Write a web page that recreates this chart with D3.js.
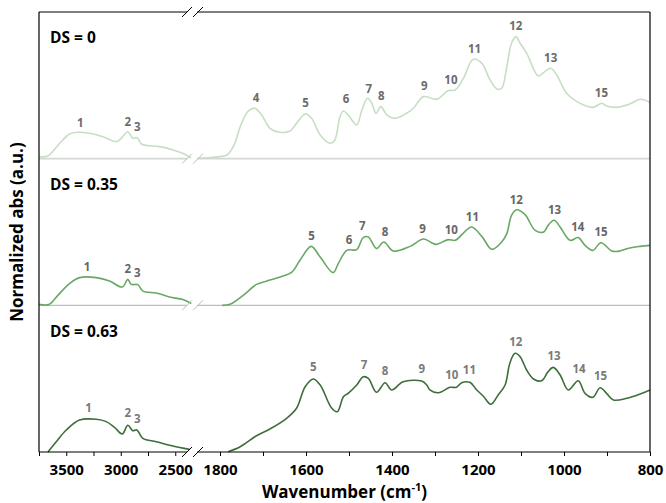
<!DOCTYPE html>
<html>
<head>
<meta charset="utf-8">
<script src="https://cdn.jsdelivr.net/npm/d3@7/dist/d3.min.js"></script>
<style>
  html, body { margin: 0; padding: 0; background: #fff; }
  svg { display: block; font-family: "Open Sans", "Noto Sans", sans-serif; }
</style>
</head>
<body>
<svg id="chart" width="666" height="503"></svg>
<script>
// ---------- DATA ----------
const panelNames = ["DS = 0", "DS = 0.35", "DS = 0.63"];
const panelOffsets = [2, 1, 0];
const lineColors = ["#c6dfc3", "#69a864", "#3e6e3b"];

const highTicks = [3500, 3000, 2500];
const lowTicks = [1800, 1600, 1400, 1200, 1000, 800];

// [wavenumber, normalized abs] — high wavenumber region (3750–2350 cm-1)
const ds0High = [[3750,0.014],[3670,0.018],[3560,0.105],[3470,0.168],[3395,0.18],[3285,0.173],[3165,0.15],[3040,0.116],[2995,0.139],[2935,0.184],[2890,0.139],[2850,0.143],[2810,0.1],[2750,0.089],[2645,0.082],[2520,0.059],[2400,0.025],[2355,0.003]];
const ds035High = [[3750,0.007],[3660,0.005],[3577,0.068],[3470,0.148],[3378,0.189],[3225,0.189],[3103,0.166],[2986,0.125],[2935,0.177],[2904,0.143],[2843,0.141],[2797,0.097],[2674,0.084],[2552,0.057],[2430,0.039],[2353,0.012]];
const ds063High = [[3668,0],[3592,0.07],[3500,0.15],[3378,0.218],[3225,0.223],[3133,0.207],[3057,0.168],[2986,0.123],[2935,0.182],[2889,0.145],[2852,0.15],[2797,0.093],[2674,0.07],[2522,0.041],[2369,0.018]];

// low wavenumber region (1850–800 cm-1)
const ds0Low = [[1850,0.003],[1816,0.01],[1784,0.025],[1769,0.082],[1750,0.241],[1734,0.325],[1719,0.344],[1703,0.298],[1684,0.207],[1660,0.18],[1637,0.189],[1622,0.241],[1602,0.305],[1587,0.275],[1567,0.162],[1544,0.105],[1533,0.127],[1521,0.286],[1513,0.325],[1502,0.298],[1482,0.23],[1470,0.332],[1457,0.412],[1447,0.378],[1437,0.31],[1426,0.355],[1412,0.298],[1393,0.275],[1366,0.31],[1350,0.344],[1327,0.423],[1296,0.405],[1269,0.464],[1253,0.468],[1234,0.548],[1211,0.678],[1191,0.65],[1172,0.537],[1156,0.475],[1145,0.48],[1133,0.627],[1122,0.787],[1112,0.832],[1102,0.787],[1087,0.719],[1060,0.564],[1048,0.586],[1031,0.616],[1017,0.571],[994,0.446],[970,0.389],[932,0.35],[912,0.378],[901,0.359],[877,0.35],[847,0.373],[823,0.405],[800,0.382]];
const ds035Low = [[1795,0],[1777,0.007],[1746,0.068],[1715,0.143],[1691,0.166],[1660,0.193],[1633,0.227],[1614,0.307],[1588,0.402],[1567,0.329],[1537,0.223],[1525,0.284],[1505,0.375],[1482,0.38],[1467,0.462],[1455,0.466],[1436,0.387],[1419,0.432],[1397,0.37],[1358,0.402],[1327,0.452],[1304,0.421],[1296,0.416],[1269,0.448],[1253,0.443],[1234,0.493],[1215,0.534],[1191,0.47],[1168,0.382],[1145,0.432],[1133,0.489],[1122,0.614],[1110,0.652],[1091,0.62],[1067,0.511],[1047,0.5],[1037,0.545],[1023,0.58],[1009,0.534],[986,0.443],[967,0.462],[951,0.409],[933,0.375],[914,0.427],[889,0.37],[874,0.368],[847,0.391],[823,0.402],[800,0.409]];
const ds063Low = [[1781,0.002],[1753,0.036],[1715,0.111],[1684,0.157],[1645,0.23],[1622,0.298],[1602,0.445],[1583,0.498],[1567,0.457],[1540,0.298],[1527,0.275],[1513,0.377],[1502,0.4],[1482,0.457],[1467,0.513],[1455,0.502],[1436,0.407],[1416,0.472],[1401,0.423],[1374,0.479],[1331,0.484],[1319,0.457],[1312,0.423],[1292,0.404],[1265,0.441],[1250,0.441],[1238,0.472],[1219,0.475],[1203,0.423],[1188,0.382],[1170,0.325],[1153,0.389],[1137,0.457],[1126,0.605],[1114,0.673],[1102,0.65],[1087,0.559],[1071,0.498],[1052,0.486],[1037,0.548],[1025,0.577],[1009,0.525],[990,0.423],[967,0.486],[951,0.4],[933,0.373],[916,0.438],[901,0.4],[885,0.355],[854,0.366],[823,0.395],[800,0.423]];

// peak labels: [label, wavenumber, height of label baseline]
const ds0Peaks = [["1",3372,0.218],["2",2935,0.225],["3",2849,0.189],["4",1716,0.385],["5",1601,0.35],["6",1507,0.378],["7",1454,0.45],["8",1425,0.4],["9",1325,0.468],["10",1263,0.509],["11",1208,0.723],["12",1112,0.877],["13",1031,0.661],["15",913,0.423]];
const ds035Peaks = [["1",3310,0.232],["2",2935,0.22],["3",2849,0.193],["5",1587,0.443],["6",1500,0.416],["7",1469,0.516],["8",1416,0.47],["9",1329,0.493],["10",1262,0.489],["11",1213,0.573],["12",1111,0.693],["13",1022,0.625],["14",968,0.505],["15",914,0.47]];
const ds063Peaks = [["1",3295,0.275],["2",2935,0.237],["3",2849,0.2],["5",1583,0.552],["7",1465,0.564],["8",1416,0.525],["9",1331,0.541],["10",1261,0.498],["11",1220,0.53],["12",1112,0.723],["13",1023,0.627],["14",965,0.541],["15",915,0.491]];

const highSeries = [ds0High, ds035High, ds063High];
const lowSeries = [ds0Low, ds035Low, ds063Low];
const peakSeries = [ds0Peaks, ds035Peaks, ds063Peaks];

// ---------- LAYOUT ----------
const svg = d3.select("#chart");
const plot = { left: 39, right: 650, top: 12, bottom: 452 };
const breakL = 191.6, breakR = 198.5;

const xHigh = d3.scaleLinear().domain([3750, 2350]).range([plot.left, breakL]);
const xLow = d3.scaleLinear().domain([1850, 800]).range([breakR, plot.right]);
const y = d3.scaleLinear().domain([0, 3]).range([plot.bottom, plot.top]);
const xOf = wn => wn > 2000 ? xHigh(wn) : xLow(wn);

// panel baselines (grey) for upper panels
const baseStyles = [{c: "#d6d6d6", w: 1.8}, {c: "#bdbdbd", w: 1.1}];
[0, 1].forEach(i => {
  const yy = y(panelOffsets[i]);
  svg.append("line").attr("x1", plot.left).attr("x2", 187).attr("y1", yy).attr("y2", yy)
    .attr("stroke", baseStyles[i].c).attr("stroke-width", baseStyles[i].w);
  svg.append("line").attr("x1", 197).attr("x2", plot.right).attr("y1", yy).attr("y2", yy)
    .attr("stroke", baseStyles[i].c).attr("stroke-width", baseStyles[i].w);
});

// spectra
const line = (xs, off) => d3.line()
  .x(d => xs(d[0]))
  .y(d => y(d[1] + off))
  .curve(d3.curveCatmullRom.alpha(0.5));

panelOffsets.forEach((off, i) => {
  svg.append("path").datum(highSeries[i]).attr("d", line(xHigh, off))
    .attr("fill", "none").attr("stroke", lineColors[i]).attr("stroke-width", 1.6);
  svg.append("path").datum(lowSeries[i]).attr("d", line(xLow, off))
    .attr("fill", "none").attr("stroke", lineColors[i]).attr("stroke-width", 1.6);
});

// break marks
function breakMarks(yy, color, w) {
  [[182, 192], [193, 203]].forEach(([a, b]) => {
    svg.append("line").attr("x1", a).attr("y1", yy + 5).attr("x2", b).attr("y2", yy - 5)
      .attr("stroke", color).attr("stroke-width", w);
  });
}
breakMarks(y(2), "#bdbdbd", 1);
breakMarks(y(1), "#bdbdbd", 1);

// frame: left, top, right, bottom
const frame = svg.append("g").attr("stroke", "#000").attr("stroke-width", 1.2);
frame.append("line").attr("x1", plot.left).attr("x2", plot.left).attr("y1", plot.top).attr("y2", plot.bottom);
frame.append("line").attr("x1", plot.right).attr("x2", plot.right).attr("y1", plot.top).attr("y2", plot.bottom);
frame.append("line").attr("x1", plot.left).attr("x2", 187).attr("y1", plot.top).attr("y2", plot.top);
frame.append("line").attr("x1", 197).attr("x2", plot.right).attr("y1", plot.top).attr("y2", plot.top);
frame.append("line").attr("x1", plot.left).attr("x2", 187).attr("y1", plot.bottom).attr("y2", plot.bottom);
frame.append("line").attr("x1", 197).attr("x2", plot.right).attr("y1", plot.bottom).attr("y2", plot.bottom);
breakMarks(plot.top, "#000", 1);
breakMarks(plot.bottom, "#000", 1);

// axes
const fmt = ticks => d => ticks.includes(d) ? d3.format("d")(d) : "";
const axHigh = d3.axisBottom(xHigh).tickValues(d3.range(3750, 2349, -250)).tickFormat(fmt(highTicks)).tickSize(4).tickPadding(8);
const axLow = d3.axisBottom(xLow).tickValues(d3.range(1800, 799, -100)).tickFormat(fmt(lowTicks)).tickSize(4).tickPadding(8);
[axHigh, axLow].forEach(ax => {
  const g = svg.append("g").attr("transform", `translate(0,${plot.bottom})`).call(ax);
  g.select(".domain").remove();
  g.selectAll(".tick line").attr("stroke", "#000").attr("stroke-width", 1);
  g.selectAll(".tick text").attr("fill", "#000").style("font-size", "15px").style("font-weight", "700")
    .style("font-family", "'Open Sans', sans-serif");
});

// panel names
panelOffsets.forEach((off, i) => {
  svg.append("text").attr("x", plot.left + 11).attr("y", y(off + 0.787))
    .attr("fill", "#000").style("font-size", "15.5px").style("font-weight", "700")
    .text(panelNames[i]);
});

// peak labels
const peakColors = ["#6b6b6b", "#666666", "#7a7a7a"];
panelOffsets.forEach((off, i) => {
  svg.append("g").selectAll("text").data(peakSeries[i]).join("text")
    .attr("x", d => xOf(d[1])).attr("y", d => y(d[2] + off))
    .attr("text-anchor", "middle").attr("fill", peakColors[i])
    .style("font-size", "11.5px").style("font-weight", "700")
    .text(d => d[0]);
});

// axis titles
const xt = svg.append("text").attr("x", (plot.left + plot.right) / 2).attr("y", 498)
  .attr("text-anchor", "middle").attr("fill", "#000")
  .style("font-size", "17px").style("font-weight", "700");
xt.append("tspan").text("Wavenumber (cm");
xt.append("tspan").attr("dy", -7).style("font-size", "11px").text("-1");
xt.append("tspan").attr("dy", 7).text(")");

svg.append("text").attr("transform", `translate(23,${(plot.top + plot.bottom) / 2}) rotate(-90)`)
  .attr("text-anchor", "middle").attr("fill", "#000")
  .style("font-size", "17px").style("font-weight", "700")
  .text("Normalized abs (a.u.)");
</script>
</body>
</html>
